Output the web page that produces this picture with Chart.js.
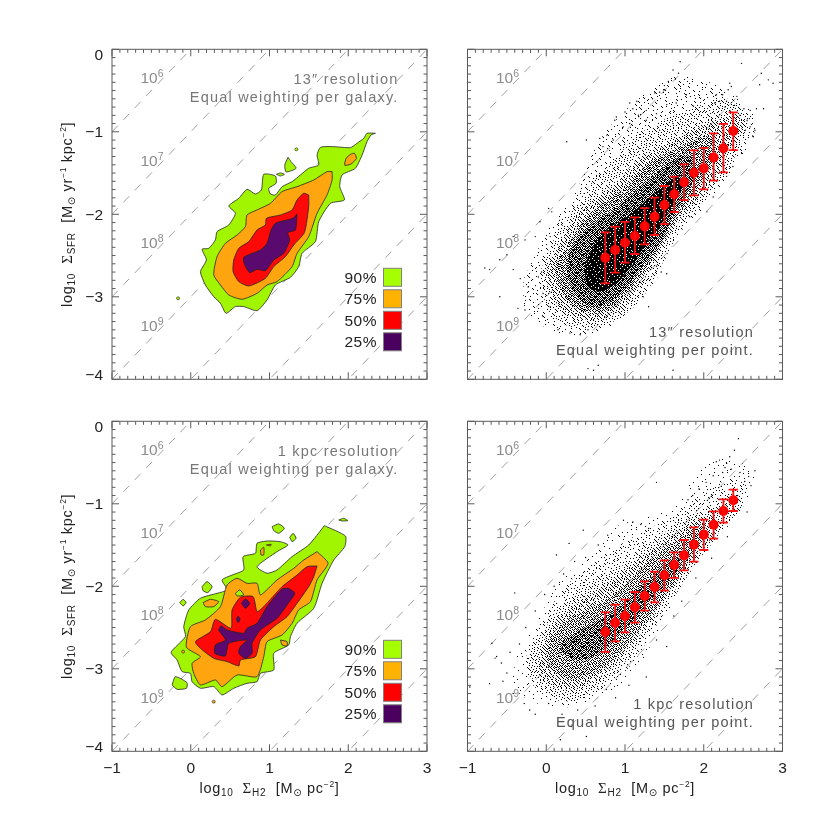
<!DOCTYPE html>
<html>
<head>
<meta charset="utf-8">
<script src="https://cdn.jsdelivr.net/npm/chart.js@4"></script>
<style>
html, body { margin: 0; background: #fff; }
#wrap { position: relative; width: 830px; height: 830px; }
canvas { position: absolute; left: 0; top: 0; }
</style>
</head>
<body>
<div id="wrap">
<canvas id="c1" width="830" height="830"></canvas>
<canvas id="c2" width="830" height="830"></canvas>
<canvas id="c3" width="830" height="830"></canvas>
<canvas id="c4" width="830" height="830"></canvas>
</div>
<script>
// axis + annotation text
const xTickValues = [-1, 0, 1, 2, 3];
const xTickLabels = ['\u22121', '0', '1', '2', '3'];
const yTickValues = [0, -1, -2, -3, -4];
const yTickLabels = ['0', '\u22121', '\u22122', '\u22123', '\u22124'];
const isoOffsets = [0, -1, -2, -3, -4, -5, -6];
const isoExponents = ['6', '7', '8', '9'];
const legendLabels = ['90%', '75%', '50%', '25%'];
const legendColors = ['#a6ff00', '#ffb300', '#ff0000', '#4b0060'];
const contourColors = ['#a2f500', '#ffa510', '#ff0808', '#5a0a6e'];

// contours, 13" per galaxy
const c13Green = [[2.345,-1.018],[2.239,-1.018],[2.197,-1.079],[2.112,-1.139],[2.028,-1.192],[1.816,-1.18],[1.647,-1.188],[1.604,-1.281],[1.625,-1.402],[1.498,-1.442],[1.393,-1.523],[1.287,-1.604],[1.16,-1.665],[1.075,-1.766],[1.012,-1.754],[0.99,-1.685],[1.084,-1.624],[1.075,-1.535],[0.927,-1.515],[0.897,-1.705],[0.821,-1.754],[0.715,-1.697],[0.61,-1.806],[0.483,-1.899],[0.567,-1.988],[0.483,-2.129],[0.334,-2.21],[0.313,-2.311],[0.229,-2.412],[0.144,-2.424],[0.199,-2.554],[0.123,-2.695],[0.186,-2.857],[0.292,-2.998],[0.377,-3.079],[0.449,-3.2],[0.567,-3.119],[0.673,-3.119],[0.842,-3.168],[0.969,-3.038],[1.075,-2.857],[1.266,-2.764],[1.371,-2.634],[1.414,-2.473],[1.583,-2.331],[1.625,-2.089],[1.774,-1.867],[1.951,-1.826],[1.892,-1.665],[1.922,-1.523],[2.091,-1.442],[2.176,-1.281],[2.239,-1.119],[2.29,-1.038]];
const c13GreenIsleA = [[1.236,-1.309],[1.274,-1.362],[1.338,-1.442],[1.211,-1.487],[1.194,-1.402]];
const c13GreenIsleB = [[1.088,-1.515],[1.139,-1.499],[1.189,-1.515],[1.139,-1.535]];
const c13Orange = [[1.795,-1.483],[1.731,-1.483],[1.562,-1.584],[1.35,-1.665],[1.16,-1.725],[1.012,-1.867],[0.842,-1.947],[0.715,-2.008],[0.694,-2.149],[0.588,-2.251],[0.44,-2.352],[0.334,-2.513],[0.292,-2.735],[0.377,-2.857],[0.483,-2.978],[0.652,-3.03],[0.842,-2.958],[0.969,-2.857],[1.096,-2.816],[1.287,-2.634],[1.35,-2.473],[1.498,-2.271],[1.604,-1.988],[1.731,-1.766],[1.795,-1.584]];
const c13OrangeIsle = [[2.028,-1.273],[2.078,-1.261],[2.104,-1.321],[2.036,-1.39],[1.956,-1.406],[1.973,-1.321]];
const c13Red = [[1.498,-1.766],[1.435,-1.745],[1.35,-1.826],[1.287,-1.947],[1.139,-2.008],[0.961,-2.048],[0.948,-2.129],[0.842,-2.19],[0.737,-2.331],[0.61,-2.412],[0.546,-2.554],[0.538,-2.695],[0.61,-2.816],[0.737,-2.869],[0.948,-2.776],[1.054,-2.634],[1.202,-2.513],[1.308,-2.372],[1.443,-2.222],[1.498,-1.907]];
const c13Purple = [[1.35,-1.996],[1.299,-2.048],[1.075,-2.109],[1.012,-2.21],[0.969,-2.352],[0.885,-2.432],[0.673,-2.521],[0.681,-2.602],[0.749,-2.707],[0.842,-2.667],[0.948,-2.683],[1.054,-2.554],[1.181,-2.473],[1.257,-2.311],[1.232,-2.222],[1.329,-2.19]];
const c13Specks = [[1.342,-1.212],[-0.161,-3.018]];

// contours, 1 kpc per galaxy
const c1kGreen = [[1.697,-1.265],[1.964,-1.39],[1.956,-1.519],[1.816,-1.681],[1.668,-1.964],[1.562,-2.267],[1.35,-2.448],[1.266,-2.61],[1.244,-2.711],[1.054,-2.812],[1.054,-3.014],[0.885,-3.055],[0.842,-3.156],[0.715,-3.176],[0.546,-3.236],[0.398,-3.317],[0.292,-3.216],[0.123,-3.236],[0.017,-3.156],[-0.004,-3.055],[-0.11,-3.034],[-0.174,-2.893],[-0.25,-2.8],[-0.068,-2.61],[-0.089,-2.489],[-0.025,-2.287],[0.123,-2.145],[0.334,-2.085],[0.461,-2.044],[0.398,-1.923],[0.525,-1.863],[0.673,-1.802],[0.665,-1.64],[0.821,-1.6],[0.842,-1.479],[0.969,-1.451],[1.139,-1.459],[1.236,-1.499],[1.096,-1.58],[0.842,-1.762],[0.969,-1.842],[1.096,-1.802],[1.287,-1.64],[1.498,-1.499]];
const c1kGreenIsles = [
  [[1.033,-1.277],[1.117,-1.244],[1.189,-1.297],[1.117,-1.358],[1.054,-1.325]],
  [[1.257,-1.406],[1.299,-1.358],[1.338,-1.418],[1.287,-1.459]],
  [[1.879,-1.196],[1.943,-1.176],[1.994,-1.204],[1.922,-1.208]],
  [[0.144,-2.004],[0.207,-1.943],[0.271,-2.004],[0.216,-2.077],[0.157,-2.053]],
  [[-0.14,-2.198],[-0.097,-2.158],[-0.059,-2.198],[-0.097,-2.238]],
  [[-0.237,-3.196],[-0.195,-3.095],[-0.047,-3.168],[-0.055,-3.236],[-0.174,-3.249]]
];
const c1kOrange = [[1.604,-1.58],[1.744,-1.721],[1.604,-1.923],[1.52,-2.186],[1.371,-2.287],[1.287,-2.448],[1.16,-2.59],[0.969,-2.671],[0.927,-2.853],[0.842,-3.095],[0.588,-3.075],[0.398,-3.216],[0.313,-3.135],[0.123,-3.196],[0.038,-3.055],[0.017,-2.933],[0.123,-2.853],[-0.055,-2.739],[-0.004,-2.489],[0.186,-2.408],[0.377,-2.246],[0.461,-1.984],[0.588,-1.903],[0.715,-1.964],[0.842,-1.964],[0.885,-2.105],[1.096,-1.923],[1.308,-1.782],[1.435,-1.681]];
const c1kOrangeIsles = [
  [[0.885,-1.56],[0.927,-1.527],[0.927,-1.62],[0.893,-1.62]],
  [[0.961,-1.499],[1.02,-1.491],[1.012,-1.511]],
  [[0.157,-2.198],[0.25,-2.158],[0.355,-2.186],[0.292,-2.246],[0.186,-2.246]],
  [[1.139,-2.651],[1.223,-2.671],[1.223,-2.723],[1.16,-2.711]]
];
const c1kGreenHole = [[0.567,-2.085],[0.622,-2.044],[0.673,-2.105],[0.588,-2.117]];
const c1kRed = [[1.604,-1.754],[1.477,-1.762],[1.35,-1.863],[1.16,-2.004],[0.927,-2.246],[0.842,-2.307],[0.792,-2.125],[0.631,-2.133],[0.525,-2.287],[0.512,-2.509],[0.313,-2.4],[0.25,-2.549],[0.059,-2.671],[0.123,-2.752],[0.292,-2.873],[0.461,-2.913],[0.61,-2.966],[0.631,-2.893],[0.821,-2.853],[0.885,-2.651],[1.054,-2.489],[1.223,-2.368],[1.35,-2.206],[1.498,-2.004],[1.562,-1.883]];
const c1kPurple = [[1.244,-2.024],[1.16,-2.032],[0.969,-2.246],[0.842,-2.449],[0.715,-2.509],[0.673,-2.57],[0.461,-2.529],[0.385,-2.481],[0.356,-2.529],[0.44,-2.651],[0.313,-2.711],[0.305,-2.812],[0.44,-2.844],[0.483,-2.691],[0.715,-2.651],[0.631,-2.731],[0.61,-2.812],[0.694,-2.873],[0.779,-2.812],[0.779,-2.691],[0.885,-2.529],[1.096,-2.388],[1.223,-2.226],[1.321,-2.085]];
const c1kPurpleIsles = [
  [[0.643,-2.206],[0.694,-2.154],[0.749,-2.206],[0.694,-2.267]],
  [[0.58,-2.4],[0.601,-2.36],[0.626,-2.4],[0.601,-2.44]]
];
const c1kSpecks = [[0.292,-3.398],[0.792,-2.093],[-0.097,-2.792],[0.199,-2.994]];

// binned medians with scatter, shared bin centres
const binCentres = [0.75,0.875,1,1.125,1.25,1.375,1.5,1.625,1.75,1.875,2,2.125,2.25,2.375];
const med13 = [-2.526,-2.433,-2.344,-2.263,-2.146,-2.029,-1.887,-1.758,-1.612,-1.495,-1.443,-1.31,-1.2,-0.99];
const hi13 = [-2.219,-2.15,-2.093,-2.037,-1.924,-1.798,-1.657,-1.544,-1.394,-1.225,-1.196,-1.019,-0.905,-0.764];
const lo13 = [-2.837,-2.708,-2.586,-2.481,-2.364,-2.251,-2.118,-1.972,-1.827,-1.77,-1.697,-1.592,-1.491,-1.221];
const med1k = [-2.554,-2.441,-2.36,-2.255,-2.118,-2.009,-1.867,-1.742,-1.625,-1.495,-1.374,-1.253,-1.087,-0.958];
const hi1k = [-2.316,-2.223,-2.162,-2.069,-1.94,-1.823,-1.685,-1.588,-1.439,-1.285,-1.192,-1.091,-0.946,-0.829];
const lo1k = [-2.796,-2.667,-2.558,-2.441,-2.295,-2.194,-2.053,-1.899,-1.806,-1.701,-1.56,-1.423,-1.229,-1.087];

// density envelopes of the point clouds (sparse -> dense)
const cloud13L1 = [[-0.292,-2.796],[0.047,-2.149],[0.343,-1.786],[0.681,-1.099],[1.105,-0.655],[1.655,-0.331],[2.205,-0.453],[2.629,-0.776],[2.629,-1.059],[2.205,-1.665],[1.951,-1.988],[1.613,-2.311],[1.443,-2.715],[1.189,-3.038],[0.893,-3.321],[0.597,-3.442],[0.174,-3.442],[-0.25,-3.2]];
const cloud13L1b = [[-0.08,-2.7],[0.1,-2.3],[0.3,-2],[0.55,-1.65],[0.85,-1.35],[1.15,-1.05],[1.5,-0.85],[1.9,-0.7],[2.3,-0.6],[2.55,-0.8],[2.45,-1.2],[2.2,-1.6],[1.95,-1.9],[1.7,-2.2],[1.5,-2.55],[1.3,-2.9],[1.02,-3.2],[0.7,-3.36],[0.3,-3.36],[0.02,-3.15]];
const cloud13L2 = [[0.131,-2.432],[0.343,-2.069],[0.597,-1.826],[0.893,-1.624],[1.147,-1.341],[1.486,-1.18],[1.782,-1.018],[2.078,-0.897],[2.417,-0.796],[2.502,-0.897],[2.29,-1.301],[2.078,-1.624],[1.867,-1.867],[1.613,-2.19],[1.401,-2.513],[1.189,-2.877],[0.935,-3.16],[0.681,-3.281],[0.343,-3.24],[0.131,-3.079],[0.004,-2.796],[0.025,-2.594]];
const cloud13L2b = [[0.25,-2.4],[0.45,-2.1],[0.7,-1.88],[1,-1.68],[1.25,-1.42],[1.55,-1.25],[1.85,-1.12],[2.1,-1.05],[2.15,-1.25],[2,-1.55],[1.78,-1.85],[1.58,-2.15],[1.42,-2.42],[1.2,-2.75],[0.98,-3],[0.7,-3.2],[0.4,-3.15],[0.2,-2.95],[0.12,-2.65]];
const cloud13L3 = [[0.385,-2.311],[0.597,-2.109],[0.851,-1.947],[1.105,-1.745],[1.359,-1.543],[1.613,-1.341],[1.824,-1.301],[1.909,-1.463],[1.824,-1.665],[1.655,-1.947],[1.486,-2.271],[1.274,-2.554],[1.062,-2.836],[0.851,-3.038],[0.597,-3.119],[0.385,-2.998],[0.279,-2.756],[0.279,-2.513]];
const cloud13L4 = [[0.618,-2.352],[0.766,-2.19],[1.02,-2.028],[1.274,-1.826],[1.486,-1.665],[1.655,-1.543],[1.74,-1.624],[1.613,-1.867],[1.443,-2.149],[1.274,-2.352],[1.105,-2.594],[0.893,-2.836],[0.681,-2.937],[0.533,-2.877],[0.491,-2.634]];
const cloud1kL1 = [[-0.377,-2.853],[-0.038,-2.287],[0.174,-1.923],[0.597,-1.6],[0.893,-1.277],[1.528,-1.075],[2.121,-0.469],[2.629,-0.59],[2.544,-0.954],[2.205,-1.398],[1.867,-1.762],[1.613,-2.206],[1.359,-2.651],[1.147,-3.014],[0.766,-3.297],[0.343,-3.459],[-0.123,-3.418],[-0.419,-3.216]];
const cloud1kL1b = [[-0.25,-2.75],[0,-2.35],[0.2,-2.05],[0.5,-1.78],[0.85,-1.55],[1.2,-1.35],[1.6,-1.15],[1.95,-0.9],[2.3,-0.72],[2.55,-0.78],[2.4,-1.12],[2.13,-1.45],[1.85,-1.8],[1.58,-2.2],[1.32,-2.6],[1.1,-2.93],[0.8,-3.2],[0.45,-3.38],[0.05,-3.36],[-0.22,-3.12]];
const cloud1kL2 = [[-0.144,-2.691],[0.089,-2.368],[0.301,-2.125],[0.597,-1.923],[0.893,-1.802],[1.189,-1.56],[1.486,-1.358],[1.782,-1.156],[2.121,-1.034],[2.459,-0.913],[2.502,-1.034],[2.248,-1.277],[2.036,-1.56],[1.782,-1.842],[1.528,-2.206],[1.274,-2.57],[1.062,-2.853],[0.808,-3.095],[0.597,-3.257],[0.343,-3.378],[0.047,-3.297],[-0.165,-3.135],[-0.25,-2.893]];
const cloud1kL2b = [[-0.03,-2.65],[0.15,-2.4],[0.4,-2.2],[0.7,-2.02],[1,-1.82],[1.25,-1.62],[1.55,-1.42],[1.85,-1.22],[2.1,-1.15],[2.2,-1.28],[1.95,-1.58],[1.75,-1.85],[1.52,-2.15],[1.28,-2.48],[1.05,-2.75],[0.8,-3],[0.55,-3.18],[0.3,-3.25],[0.05,-3.2],[-0.1,-2.95]];
const cloud1kL3 = [[0.047,-2.61],[0.258,-2.408],[0.512,-2.287],[0.766,-2.166],[0.978,-2.004],[1.232,-1.762],[1.486,-1.56],[1.782,-1.358],[1.909,-1.236],[2.036,-1.317],[1.867,-1.6],[1.697,-1.842],[1.528,-2.085],[1.274,-2.408],[1.062,-2.651],[0.851,-2.893],[0.597,-3.055],[0.343,-3.135],[0.131,-3.055],[0.004,-2.853]];
const cloud1kL4 = [[0.216,-2.651],[0.428,-2.529],[0.681,-2.408],[0.935,-2.246],[1.189,-2.004],[1.401,-1.842],[1.57,-1.681],[1.676,-1.64],[1.697,-1.762],[1.528,-1.964],[1.359,-2.125],[1.147,-2.368],[0.935,-2.57],[0.724,-2.772],[0.512,-2.893],[0.301,-2.873],[0.195,-2.772]];

// individually visible outlying points
const dots13 = [[1.7,-.15],[1.61,-.25],[1.68,-.29],[1.55,-.39],[1.64,-.36],[1.5,-.44],[1.44,-.52],[1.35,-.6],[2.48,-.17],[2.33,-.41],[2.31,-.49],[2.35,-.45],[2.16,-.55],[2.2,-.63],[2.14,-.65],[2.29,-.63],[2.42,-.57],[2.73,-.29],[2.82,-.37],[2.88,-.41],[2.71,-.43],[2.67,-.72],[2.76,-.72],[2.59,-.74],[2.65,-.98],[2.62,-1.05],[2.53,-.98],[2.27,-.7],[2.34,-.75],[2.39,-.68],[2.24,-.55],[2.46,-.8],[2.55,-.86],[2.51,-.72],[2.58,-.84],[1.06,-.65],[1.1,-.72],[1,-.76],[.89,-.82],[.87,-.86],[1.15,-.63],[1.27,-.74],[1.38,-.53],[1.49,-.49],[.77,-1.04],[.68,-1.08],[.51,-1.1],[.26,-1.12],[.72,-1.18],[.85,-1.1],[.98,-.94],[1.06,-.9],[1.17,-.8],[1.27,-.86],[1.4,-.78],[1.53,-.67],[1.65,-.65],[1.78,-.55],[1.87,-.69],[1.61,-.9],[1.44,-.98],[.05,-2.27],[-.08,-2.09],[.03,-1.93],[.07,-1.97],[-.14,-2.27],[-.27,-2.31],[-.42,-2.27],[-.5,-2.49],[-.59,-2.55],[-.72,-2.67],[-.78,-2.65],[-.33,-2.78],[-.42,-2.67],[-.23,-2.88],[-.59,-3],[-.27,-3.16],[-.36,-3.14],[-.1,-2.76],[-.06,-2.7],[-.04,-2.96],[.05,-3.12],[-.04,-3.24],[.15,-3.4],[.3,-3.44],[.43,-3.46],[.53,-3.4],[.6,-3.89],[.53,-3.87],[.66,-3.83],[1.61,-3.89],[1.3,-3.12],[1.23,-3],[1.53,-2.72],[1.46,-2.7],[1.4,-2.63],[1.82,-2.03],[2.04,-1.97],[2.12,-1.79],[2.29,-1.54],[2.37,-1.42],[2.48,-1.26],[2.63,-1.06],[2.59,-.94]];
const dots1k = [[2.44,-.21],[2.39,-.35],[2.33,-.43],[2.2,-.47],[2.16,-.49],[2.29,-.51],[2.65,-.6],[2.57,-.67],[2.52,-.73],[1.4,-.74],[.47,-1.32],[.29,-1.48],[.13,-1.62],[-.4,-2.08],[-.69,-2.69],[-.63,-2.85],[-.57,-2.93],[-.97,-3.22],[-.65,-2.87],[-.72,-3.18],[-.5,-3.05],[.51,-3.82],[.18,-3.86],[.32,-3.7],[-.21,-3.5],[.03,-3.42],[1.27,-3.1],[1.53,-2.73],[1.4,-2.65],[2.27,-.56],[2.24,-.62],[2.35,-.58],[2.12,-.66],[2.03,-.74],[1.94,-.82],[1.86,-.9],[1.8,-.95],[2.46,-.62],[2.6,-.78],[2.43,-.9],[.98,-1.2],[1.1,-1.22],[1.2,-1.25],[1.3,-1.3],[.78,-1.38],[.66,-1.5],[.5,-1.65],[.36,-1.7],[.22,-1.85],[.1,-2],[-.02,-2.1],[-.14,-2.3],[-.26,-2.5],[-.34,-2.7],[-.46,-2.8],[-.55,-3.15],[-.42,-3.3],[-.28,-3.42],[-.14,-3.55],[.2,-3.55],[.4,-3.5],[.62,-3.45],[.88,-3.35],[1.05,-3.2],[1.62,-2.36],[1.72,-2.18],[1.9,-1.9],[2.1,-1.66],[2.3,-1.4],[2.55,-1.1]];

const panels = [
  { id: 'c1', left: 112, right: 427, top: 49.3, bottom: 379.3, leftAxis: true, bottomAxis: false },
  { id: 'c2', left: 467.5, right: 782.5, top: 49.3, bottom: 379.3, leftAxis: false, bottomAxis: false },
  { id: 'c3', left: 112, right: 427, top: 421.3, bottom: 751.3, leftAxis: true, bottomAxis: true },
  { id: 'c4', left: 467.5, right: 782.5, top: 421.3, bottom: 751.3, leftAxis: false, bottomAxis: true }
];

const SANS = '"Liberation Sans"';
const GREY = '#8c8c8c';
const FRAME = '#5a5a5a';

function pts(arr) {
  return arr.map(p => ({ x: p[0], y: p[1] }));
}
function ring(arr) {
  return pts(arr.concat([arr[0]]));
}

// stipple tile used for the density envelopes, blocks of it are slid by
// these offsets so the texture does not read as a grid
const tile = [
  [37, 12, 58, 3, 44, 21, 62, 9],
  [19, 50, 28, 41, 7, 54, 31, 48],
  [60, 5, 34, 16, 56, 25, 1, 39],
  [23, 46, 11, 52, 36, 14, 43, 18],
  [55, 30, 63, 2, 27, 59, 6, 33],
  [8, 40, 20, 47, 10, 38, 51, 24],
  [49, 15, 57, 29, 61, 4, 22, 42],
  [26, 35, 0, 45, 17, 53, 32, 13]
];
const slideA = [3, 6, 1, 5, 0, 7, 2];
const slideB = [5, 2, 7, 0, 4, 1, 6];
function stipple(level) {
  const c = document.createElement('canvas');
  c.width = 56;
  c.height = 56;
  const g = c.getContext('2d');
  g.fillStyle = '#000';
  for (let r = 0; r < 56; r++) {
    for (let k = 0; k < 56; k++) {
      const br = Math.floor(r / 8), bk = Math.floor(k / 8);
      const v = tile[(r + slideA[bk] + slideB[br]) % 8][(k + slideB[bk] * 3 + slideA[br]) % 8];
      if (v < level * 64) g.fillRect(k, r, 1, 1);
    }
  }
  return g.createPattern(c, 'repeat');
}

function isoSets() {
  return isoOffsets.map(k => ({
    type: 'line',
    data: [{ x: -1, y: -1 + k }, { x: 3, y: 3 + k }],
    borderColor: '#a0a0a0',
    borderWidth: 1,
    borderDash: [8.5, 8],
    pointRadius: 0,
    fill: false
  }));
}
function contour(arr, color) {
  return {
    type: 'line',
    data: ring(arr),
    borderColor: '#222',
    borderWidth: 0.8,
    backgroundColor: color,
    fill: 'shape',
    tension: 0.2,
    pointRadius: 0
  };
}
function band(arr, level) {
  return {
    type: 'line',
    data: ring(arr),
    borderWidth: 0,
    borderColor: 'rgba(0,0,0,0)',
    backgroundColor: stipple(level),
    fill: 'shape',
    tension: 0.3,
    pointRadius: 0
  };
}
function specks(arr, color) {
  return {
    type: 'scatter',
    data: pts(arr),
    backgroundColor: color,
    borderColor: '#222',
    borderWidth: 0.6,
    pointRadius: 1.5
  };
}
function dots(arr) {
  return {
    type: 'scatter',
    data: pts(arr),
    backgroundColor: '#000',
    borderWidth: 0,
    pointRadius: 0.7
  };
}
function medians(med) {
  return {
    type: 'scatter',
    data: binCentres.map((x, i) => ({ x, y: med[i] })),
    backgroundColor: '#ff0000',
    borderWidth: 0,
    pointRadius: 5
  };
}

// runs: [text, size, baseline shift, family]
function drawRuns(ctx, x, y, runs, align, spacing) {
  ctx.save();
  ctx.letterSpacing = (spacing || 0) + 'px';
  ctx.textBaseline = 'alphabetic';
  ctx.textAlign = 'left';
  let w = 0;
  runs.forEach(r => {
    ctx.font = r[1] + 'px ' + (r[3] || SANS);
    w += ctx.measureText(r[0]).width;
  });
  let cx = x;
  if (align === 'center') cx = x - w / 2;
  if (align === 'right') cx = x - w;
  runs.forEach(r => {
    ctx.font = r[1] + 'px ' + (r[3] || SANS);
    ctx.fillText(r[0], cx, y + (r[2] || 0));
    cx += ctx.measureText(r[0]).width;
  });
  ctx.restore();
}

const xTitleRuns = [['log', 14.5], ['10', 10, 3], ['  ', 14], ['\u03a3', 15, 0, '"Liberation Serif"'], ['H2', 10, 3], ['  [M', 14.5], ['\u2299', 10, 3, '"DejaVu Sans"'], [' pc', 14.5], ['\u22122', 8.5, -6], [']', 14.5]];
const yTitleRuns = [['log', 14.5], ['10', 10, 3], ['  ', 14], ['\u03a3', 15, 0, '"Liberation Serif"'], ['SFR', 10, 3], ['  [M', 14.5], ['\u2299', 10, 3, '"DejaVu Sans"'], [' yr', 14.5], ['\u22121', 8.5, -6], [' kpc', 14.5], ['\u22122', 8.5, -6], [']', 14.5]];

const framePlugin = {
  id: 'frame',
  afterDatasetsDraw(chart, args, opts) {
    const ctx = chart.ctx;
    const { x, y } = chart.scales;
    const a = chart.chartArea;
    const L = a.left, R = a.right, T = a.top, B = a.bottom;

    // error bars
    if (opts.hi) {
      ctx.save();
      ctx.strokeStyle = '#ff1010';
      ctx.lineWidth = 1.8;
      binCentres.forEach((v, i) => {
        const px = x.getPixelForValue(v);
        const h = y.getPixelForValue(opts.hi[i]);
        const l = y.getPixelForValue(opts.lo[i]);
        ctx.beginPath();
        ctx.moveTo(px, h); ctx.lineTo(px, l);
        ctx.moveTo(px - 4.6, h); ctx.lineTo(px + 4.6, h);
        ctx.moveTo(px - 4.6, l); ctx.lineTo(px + 4.6, l);
        ctx.stroke();
      });
      ctx.restore();
    }

    // frame + inward ticks on all sides
    ctx.save();
    ctx.strokeStyle = FRAME;
    ctx.lineWidth = 1;
    ctx.strokeRect(L, T, R - L, B - T);
    ctx.beginPath();
    for (let i = -10; i <= 30; i++) {
      const px = x.getPixelForValue(i / 10);
      const len = i % 10 === 0 ? 7 : 3.5;
      ctx.moveTo(px, B); ctx.lineTo(px, B - len);
      ctx.moveTo(px, T); ctx.lineTo(px, T + len);
    }
    for (let i = -40; i <= 0; i++) {
      const py = y.getPixelForValue(i / 10);
      const len = i % 10 === 0 ? 7 : 3.5;
      ctx.moveTo(L, py); ctx.lineTo(L + len, py);
      ctx.moveTo(R, py); ctx.lineTo(R - len, py);
    }
    ctx.stroke();
    ctx.restore();

    // depletion-time labels
    ctx.fillStyle = GREY;
    isoExponents.forEach((e, i) => {
      const px = x.getPixelForValue(-0.639);
      const py = y.getPixelForValue(-0.41 - i);
      drawRuns(ctx, px, py, [['10', 15.5], [e, 10.5, -6]], 'left', 0);
    });

    // corner note
    ctx.fillStyle = opts.noteColor;
    drawRuns(ctx, opts.noteX, T + opts.noteY, [[opts.note[0], 14.5]], 'right', 1.2);
    drawRuns(ctx, opts.noteX, T + opts.noteY + 17.8, [[opts.note[1], 14.5]], 'right', 1.2);

    // legend swatches
    if (opts.legend) {
      legendLabels.forEach((t, i) => {
        const sy = T + 219 + i * 21.5;
        ctx.fillStyle = legendColors[i];
        ctx.fillRect(383.5, sy, 18, 18);
        ctx.strokeStyle = '#808080';
        ctx.lineWidth = 1;
        ctx.strokeRect(383.5, sy, 18, 18);
        ctx.fillStyle = '#222';
        drawRuns(ctx, 377, sy + 14.5, [[t, 15.5]], 'right', 0.5);
      });
    }

    // axis labels
    ctx.fillStyle = '#222';
    if (opts.leftAxis) {
      yTickValues.forEach((v, i) => {
        let py = y.getPixelForValue(v) + 5.5;
        if (i === 0) py += 5;
        if (i === yTickValues.length - 1) py -= 5;
        drawRuns(ctx, L - 9, py, [[yTickLabels[i], 15.5]], 'right', 0);
      });
      ctx.save();
      ctx.translate(72, (T + B) / 2);
      ctx.rotate(-Math.PI / 2);
      drawRuns(ctx, 0, 0, yTitleRuns, 'center', 0.7);
      ctx.restore();
    }
    if (opts.bottomAxis) {
      xTickValues.forEach((v, i) => {
        drawRuns(ctx, x.getPixelForValue(v), B + 22, [[xTickLabels[i], 15.5]], 'center', 0);
      });
      drawRuns(ctx, (L + R) / 2, B + 42, xTitleRuns, 'center', 0.7);
    }
  }
};

function makePanel(p, sets, extra) {
  // first in the list is painted first
  sets.forEach((s, i) => { s.order = sets.length - i; });
  const axis = (min, max) => ({
    type: 'linear',
    min,
    max,
    display: true,
    grid: { display: false, drawTicks: false },
    border: { display: false },
    ticks: { display: false, stepSize: 1 }
  });
  new Chart(document.getElementById(p.id), {
    data: { datasets: sets },
    plugins: [framePlugin],
    options: {
      responsive: false,
      animation: false,
      events: [],
      layout: { padding: { left: p.left, right: 830 - p.right, top: p.top, bottom: 830 - p.bottom } },
      scales: { x: axis(-1, 3), y: axis(-4, 0) },
      plugins: {
        legend: { display: false },
        tooltip: { enabled: false },
        frame: Object.assign({ leftAxis: p.leftAxis, bottomAxis: p.bottomAxis }, extra)
      }
    }
  });
}

makePanel(panels[0], [].concat(
  isoSets(),
  [contour(c13Green, contourColors[0]), contour(c13GreenIsleA, contourColors[0]), contour(c13GreenIsleB, contourColors[0]), specks(c13Specks, contourColors[0])],
  [contour(c13Orange, contourColors[1]), contour(c13OrangeIsle, contourColors[1])],
  [contour(c13Red, contourColors[2]), contour(c13Purple, contourColors[3])]
), { note: ['13\u2033 resolution', 'Equal weighting per galaxy.'], noteX: 398.5, noteY: 35, noteColor: '#777', legend: true });

makePanel(panels[1], [].concat(
  isoSets(),
  [band(cloud13L1, 0.05), band(cloud13L1b, 0.13), band(cloud13L2, 0.25), band(cloud13L2b, 0.42), band(cloud13L3, 0.62), band(cloud13L4, 0.9), dots(dots13)],
  [medians(med13)]
), { note: ['13\u2033 resolution', 'Equal weighting per point.'], noteX: 754, noteY: 288, noteColor: '#555', hi: hi13, lo: lo13 });

makePanel(panels[2], [].concat(
  isoSets(),
  [contour(c1kGreen, contourColors[0])],
  c1kGreenIsles.map(a => contour(a, contourColors[0])),
  [specks(c1kSpecks, contourColors[1])],
  [contour(c1kOrange, contourColors[1])],
  c1kOrangeIsles.map(a => contour(a, contourColors[1])),
  [contour(c1kGreenHole, contourColors[0])],
  [contour(c1kRed, contourColors[2]), contour(c1kPurple, contourColors[3])],
  c1kPurpleIsles.map(a => contour(a, contourColors[3]))
), { note: ['1 kpc resolution', 'Equal weighting per galaxy.'], noteX: 398.5, noteY: 35, noteColor: '#777', legend: true });

makePanel(panels[3], [].concat(
  isoSets(),
  [band(cloud1kL1, 0.03), band(cloud1kL1b, 0.08), band(cloud1kL2, 0.15), band(cloud1kL2b, 0.25), band(cloud1kL3, 0.36), band(cloud1kL4, 0.58), dots(dots1k)],
  [medians(med1k)]
), { note: ['1 kpc resolution', 'Equal weighting per point.'], noteX: 754, noteY: 288, noteColor: '#555', hi: hi1k, lo: lo1k });
</script>
</body>
</html>
